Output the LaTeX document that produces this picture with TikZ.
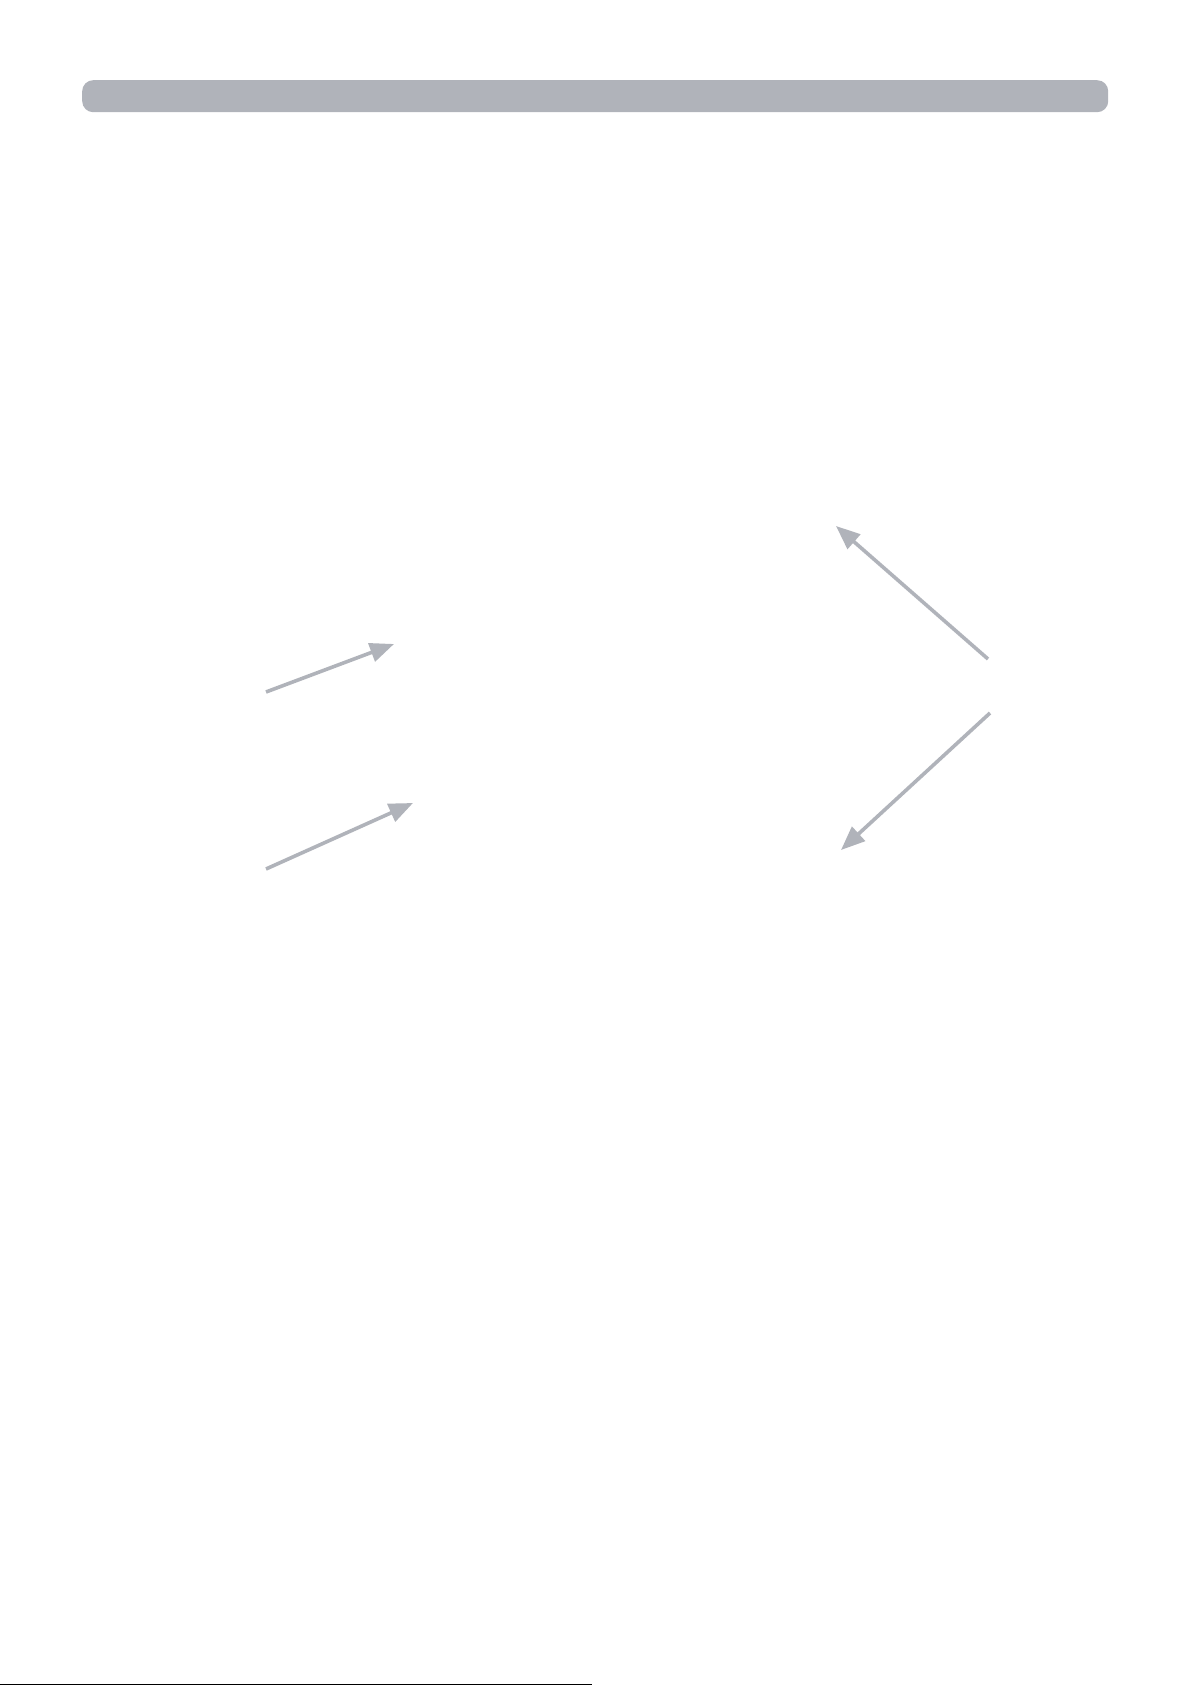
\documentclass[tikz,border=0pt]{standalone}
\usetikzlibrary{arrows.meta}
\definecolor{bargray}{HTML}{B0B3BA}
\tikzset{
  pointer/.style={draw=bargray, line width=3.6pt, line cap=butt,
    -{Triangle[length=24pt,width=19pt]}},
  headerbar/.style={fill=bargray, draw=none, rounded corners=11pt},
}
\begin{document}
\begin{tikzpicture}[x=1pt,y=-1pt]
\useasboundingbox (0,0) rectangle (1191,1685);
\fill[white] (0,0) rectangle (1191,1685);
% header bar
\node[headerbar, minimum width=1026pt, minimum height=32pt, inner sep=0pt, anchor=north west] (bar) at (82,80) {};
% arrow end points
\coordinate (a1s) at (266,692);
\coordinate (a1e) at (394,644);
\coordinate (a2s) at (266,869);
\coordinate (a2e) at (413,803);
\coordinate (a3s) at (988,659);
\coordinate (a3e) at (836,526);
\coordinate (a4s) at (990,713);
\coordinate (a4e) at (841,850);
\draw[pointer] (a1s) -- (a1e);
\draw[pointer] (a2s) -- (a2e);
\draw[pointer] (a3s) -- (a3e);
\draw[pointer] (a4s) -- (a4e);
% bottom rule
\coordinate (r1) at (0,1684.2);
\coordinate (r2) at (592,1684.2);
\draw[black, line width=1.4pt] (r1) -- (r2);
\end{tikzpicture}
\end{document}
